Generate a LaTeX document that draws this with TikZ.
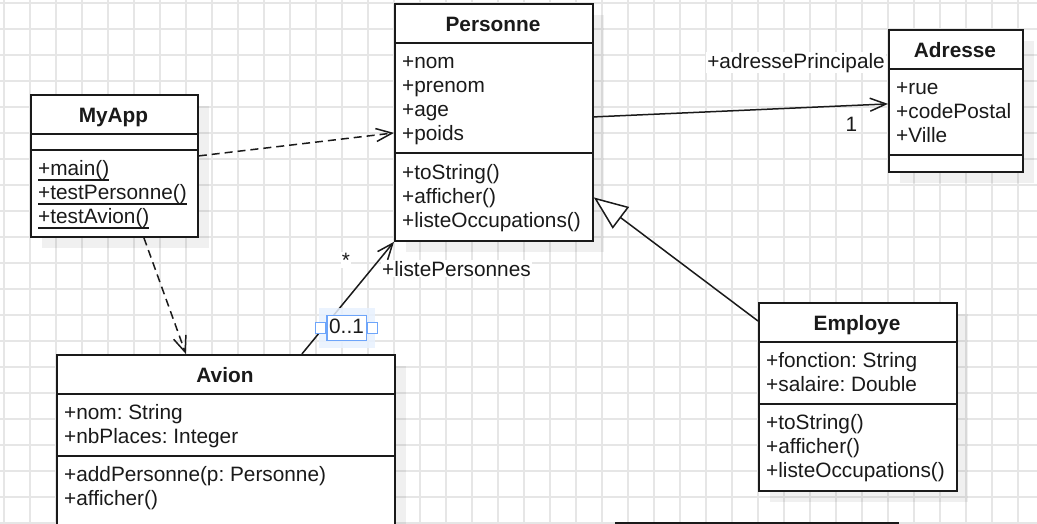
\documentclass[tikz,border=0pt]{standalone}
\usepackage{fontspec}
\setmainfont{Liberation Sans}
\usetikzlibrary{arrows.meta}
\definecolor{gridgray}{RGB}{230,230,230}
\definecolor{inkgray}{RGB}{26,26,26}
\definecolor{selblue}{RGB}{110,165,250}
\definecolor{selfill}{RGB}{232,241,254}
\newcommand\staticop[1]{\setbox0\hbox{#1}\rlap{\vrule height -4.2pt depth 5.6pt width \wd0}\box0}
\begin{document}
\frenchspacing
\begin{tikzpicture}[x=1pt,y=-1pt,
  classbox/.style={rectangle, draw=inkgray, line width=1.8pt, fill=white, anchor=north west, inner sep=0pt},
  shadowbox/.style={fill=black, opacity=0.06},
  sepline/.style={draw=inkgray, line width=1.8pt},
  member/.style={anchor=base west, inner sep=0pt, text=inkgray, font=\fontsize{20.8pt}{24pt}\selectfont},
  classname/.style={anchor=base, inner sep=0pt, text=inkgray, font=\fontsize{20.8pt}{24pt}\selectfont\bfseries},
  role/.style={fill=white, inner sep=1pt, text=inkgray, font=\fontsize{20.8pt}{24pt}\selectfont},
  assoc/.style={draw=inkgray, line width=1.5pt, -{Straight Barb[length=16pt,width=13pt]}},
  dep/.style={assoc, dash pattern=on 8pt off 5pt},
  gen/.style={draw=inkgray, line width=1.5pt, -{Triangle[length=34pt,width=27pt,fill=white]}},
  handle/.style={rectangle, draw=selblue, line width=1.3pt, fill=white, minimum width=10pt, minimum height=11pt, inner sep=0pt}]
\useasboundingbox (0,0) rectangle (1037,523);
\fill[white] (0,0) rectangle (1037,523);
% grid
\foreach \x in {4,30,...,1018}
    \draw[gridgray, line width=1.3pt] (\x,0) -- (\x,523);
\foreach \y in {3,29,...,523}
    \draw[gridgray, line width=1.3pt] (0,\y) -- (1037,\y);
% shadows
\fill[shadowbox] (41.5,105.5) rectangle (208.5,247.5);
\fill[shadowbox] (405.5,14.5) rectangle (603.5,251.5);
\fill[shadowbox] (899.5,40.5) rectangle (1033.5,182.5);
\fill[shadowbox] (769.5,313.5) rectangle (967.5,501.5);
\fill[shadowbox] (67.5,365.5) rectangle (405.5,565);
% classes
\node[classbox, minimum width=167pt, minimum height=142pt] (myapp) at (30,94) {};
\node[classbox, minimum width=198pt, minimum height=237pt] (personne) at (394,3) {};
\node[classbox, minimum width=134pt, minimum height=142pt] (adresse) at (888,29) {};
\node[classbox, minimum width=198pt, minimum height=188pt] (employe) at (758,302) {};
\node[classbox, minimum width=338pt, minimum height=200pt] (avion) at (56,354) {};
\node[classbox, minimum width=282pt, minimum height=60pt] (nextclass) at (615,522) {};
% compartments
\draw[sepline] ([yshift=-40pt]myapp.north west) -- ([yshift=-40pt]myapp.north east);
\draw[sepline] ([yshift=-56pt]myapp.north west) -- ([yshift=-56pt]myapp.north east);
\draw[sepline] ([yshift=-40pt]personne.north west) -- ([yshift=-40pt]personne.north east);
\draw[sepline] ([yshift=-150pt]personne.north west) -- ([yshift=-150pt]personne.north east);
\draw[sepline] ([yshift=-40pt]adresse.north west) -- ([yshift=-40pt]adresse.north east);
\draw[sepline] ([yshift=-126pt]adresse.north west) -- ([yshift=-126pt]adresse.north east);
\draw[sepline] ([yshift=-40pt]employe.north west) -- ([yshift=-40pt]employe.north east);
\draw[sepline] ([yshift=-102pt]employe.north west) -- ([yshift=-102pt]employe.north east);
\draw[sepline] ([yshift=-40pt]avion.north west) -- ([yshift=-40pt]avion.north east);
\draw[sepline] ([yshift=-102pt]avion.north west) -- ([yshift=-102pt]avion.north east);
% titles
\node[classname] (myappname) at (113.5,122) {MyApp};
\node[classname] (personnename) at (493,31) {Personne};
\node[classname] (adressename) at (955,57) {Adresse};
\node[classname] (employename) at (857,330) {Employe};
\node[classname] (avionname) at (225,382) {Avion};
% members
\foreach \txt [count=\i] in {+main(), +testPersonne(), +testAvion()}
    \node[member] (mmeth\i) at (38,151+24*\i) {\staticop{\txt}};
\foreach \txt [count=\i] in {+nom, +prenom, +age, +poids}
    \node[member] (pattr\i) at (402,44+24*\i) {\txt};
\foreach \txt [count=\i] in {+toString(), +afficher(), +listeOccupations()}
    \node[member] (pmeth\i) at (402,155+24*\i) {\txt};
\foreach \txt [count=\i] in {+rue, +codePostal, +Ville}
    \node[member] (aattr\i) at (896,70+24*\i) {\txt};
\foreach \txt [count=\i] in {+fonction: String, +salaire: Double}
    \node[member] (eattr\i) at (766,343+24*\i) {\txt};
\foreach \txt [count=\i] in {+toString(), +afficher(), +listeOccupations()}
    \node[member] (emeth\i) at (766,405+24*\i) {\txt};
\foreach \txt [count=\i] in {+nom: String, +nbPlaces: Integer}
    \node[member] (vattr\i) at (64,395+24*\i) {\txt};
\foreach \txt [count=\i] in {+addPersonne(p: Personne), +afficher()}
    \node[member] (vmeth\i) at (64,457+24*\i) {\txt};
% relations
\draw[dep] ([yshift=10pt]myapp.east) -- ([yshift=-10.5pt]personne.west);
\draw[dep] ([xshift=29.5pt]myapp.south) -- ([xshift=-40pt]avion.north);
\draw[assoc] ([yshift=5.5pt]personne.east) -- ([yshift=-3pt]adresse.west);
\draw[assoc] ([xshift=76pt]avion.north) -- (personne.south west);
\draw[gen] ([yshift=-19pt]employe.north west) -- ([yshift=-75pt]personne.east);
% roles and multiplicities
\node[role, anchor=base east] (adrrole) at (886,68) {+adressePrincipale};
\node[role, anchor=base] (adrmult) at (851.5,131) {1};
\node[role, anchor=base] (listmult) at (346,267) {*};
\node[role, anchor=base west] (listrole) at (381,276) {+listePersonnes};
% selected label
\fill[selfill, opacity=0.85] (319,308) rectangle (375,348);
\node[draw=selblue, line width=1.3pt, fill=white, anchor=base, inner xsep=2.3pt, inner ysep=0.5pt,
      text height=17pt, text depth=7pt, text=inkgray, font=\fontsize{20.8pt}{24pt}\selectfont] (avionmult) at (346.5,333) {0..1};
\node[handle, anchor=east] (handleleft) at (avionmult.west) {};
\node[handle, anchor=west] (handleright) at (avionmult.east) {};
\end{tikzpicture}
\end{document}
